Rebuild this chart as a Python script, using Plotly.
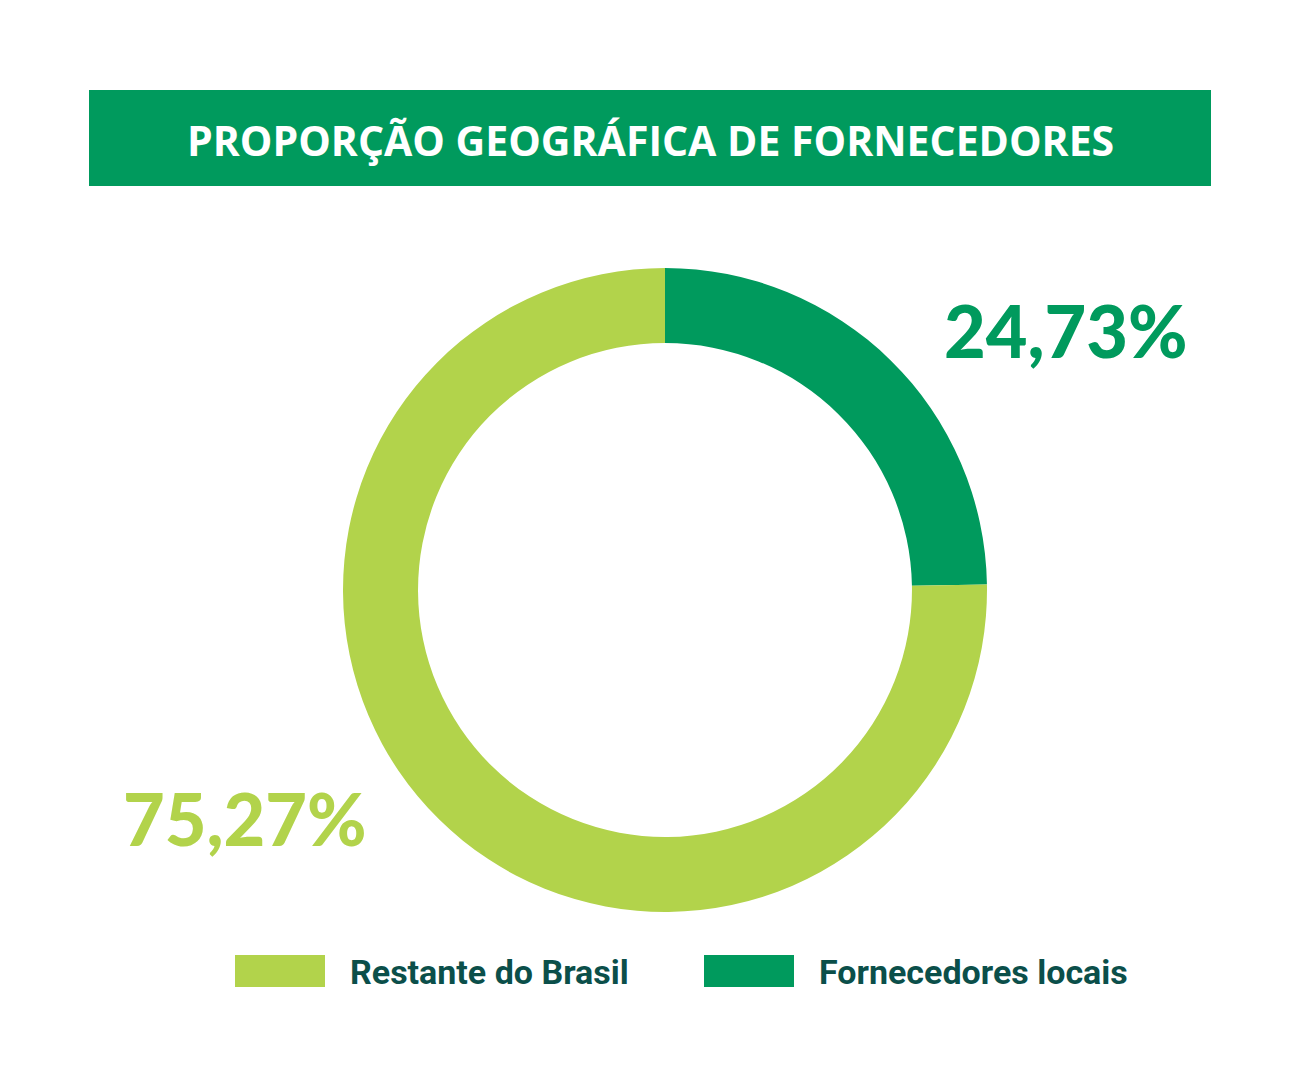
import plotly.graph_objects as go

title_text = "PROPORÇÃO GEOGRÁFICA DE FORNECEDORES"
labels = ["Fornecedores locais", "Restante do Brasil"]
values = [24.73, 75.27]
colors = ["#009a5d", "#b2d34b"]
legend_order = ["Restante do Brasil", "Fornecedores locais"]

W, H = 1300, 1080
OFF = 8  # page body margin in the screenshot
cx, cy, R = 665 - OFF, 590 - OFF, 322

def X(px):
    return (px - OFF) / W

def Y(py):
    return (H - (py - OFF)) / H

fig = go.Figure()
fig.add_trace(go.Pie(
    labels=labels, values=values, sort=False, direction="clockwise", rotation=0,
    hole=0.767, marker=dict(colors=colors, line=dict(width=0)),
    textinfo="none", hoverinfo="label+percent", showlegend=False,
    domain=dict(x=[(cx - R) / W, (cx + R) / W], y=[(H - cy - R) / H, (H - cy + R) / H]),
))

def fmt(v):
    return f"{v:.2f}".replace(".", ",") + "%"

shapes = [dict(type="rect", xref="paper", yref="paper",
               x0=X(89), x1=X(1211), y0=Y(186), y1=Y(90),
               fillcolor="#009a5d", line=dict(width=0), layer="below")]
annotations = [dict(text=title_text, x=X(650), y=Y(140), xref="paper", yref="paper",
                    showarrow=False, font=dict(family="Open Sans", size=41, color="white", weight=700),
                    xanchor="center", yanchor="middle")]

label_pos = {"Fornecedores locais": (1066, 330), "Restante do Brasil": (245, 818)}
for lab, val, col in zip(labels, values, colors):
    px, py = label_pos[lab]
    annotations.append(dict(text=fmt(val), x=X(px), y=Y(py), xref="paper", yref="paper",
                            showarrow=False, font=dict(family="Lato", size=72, color=col, weight=900),
                            xanchor="center", yanchor="middle"))

leg_x = {"Restante do Brasil": 235, "Fornecedores locais": 704}
for lab in legend_order:
    col = colors[labels.index(lab)]
    x0 = leg_x[lab]
    shapes.append(dict(type="rect", xref="paper", yref="paper",
                       x0=X(x0), x1=X(x0 + 90), y0=Y(987), y1=Y(955),
                       fillcolor=col, line=dict(width=0)))
    annotations.append(dict(text=lab, x=X(x0 + 113), y=Y(972), xref="paper", yref="paper",
                            showarrow=False, font=dict(family="Roboto", size=34, color="#0b4f4a", weight=700),
                            xanchor="left", yanchor="middle"))

fig.update_layout(width=W, height=H, margin=dict(l=0, r=0, t=0, b=0),
                  paper_bgcolor="white", plot_bgcolor="white",
                  shapes=shapes, annotations=annotations)
fig.write_html("out.html")
